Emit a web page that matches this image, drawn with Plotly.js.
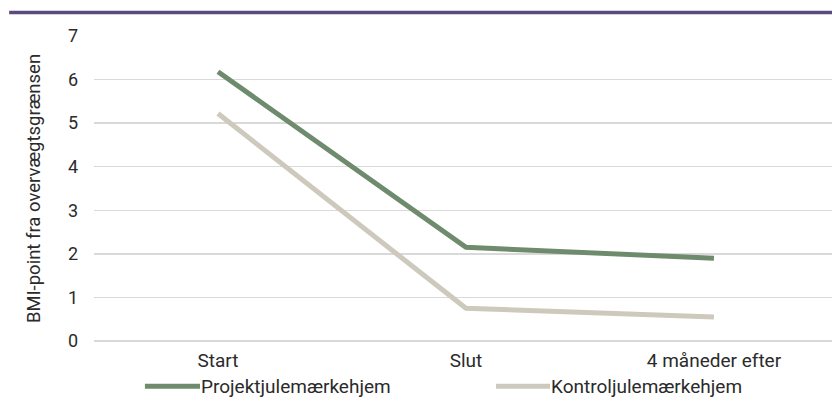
<!DOCTYPE html>
<html>
<head>
<meta charset="utf-8">
<script src="https://cdn.plot.ly/plotly-3.0.1.min.js"></script>
<style>html,body{margin:0;padding:0;background:#fff;}#chart{width:832px;height:401px;}</style>
</head>
<body>
<div id="chart"></div>
<script>
const categories = ["Start", "Slut", "4 måneder efter"];
const seriesNames = ["Projektjulemærkehjem", "Kontroljulemærkehjem"];
const projektValues = [6.18, 2.15, 1.9];
const kontrolValues = [5.22, 0.75, 0.55];
const yTicks = [0, 1, 2, 3, 4, 5, 6, 7];
const yTitle = "BMI-point fra overvægtsgrænsen";
const colors = ["#6f8b6d", "#cdc9bc"];

const FONT = "Roboto, 'DejaVu Sans', sans-serif";
const TXT = "#2b2b2b";
const traces = [
  {x: categories, y: projektValues, name: seriesNames[0], type: "scatter", mode: "lines",
   line: {color: colors[0], width: 5}},
  {x: categories, y: kontrolValues, name: seriesNames[1], type: "scatter", mode: "lines",
   line: {color: colors[1], width: 5}}
];

// custom legend (paper coordinates)
const legendY = -0.148;
const legendItems = [
  {x0: 0.069, x1: 0.1436, tx: 0.1436},
  {x0: 0.5447, x1: 0.6179, tx: 0.6185}
];
const shapes = [{type: "line", xref: "paper", yref: "paper", x0: -0.115, x1: 1, y0: 1.077, y1: 1.077,
                 line: {color: "#5b4a80", width: 3.5}}];
const annotations = [];
legendItems.forEach((it, i) => {
  shapes.push({type: "line", xref: "paper", yref: "paper", x0: it.x0, x1: it.x1, y0: legendY, y1: legendY,
               line: {color: colors[i], width: 5}});
  annotations.push({xref: "paper", yref: "paper", x: it.tx, y: legendY, xanchor: "left", yanchor: "middle",
                    text: seriesNames[i], showarrow: false, borderpad: 0,
                    font: {size: 19, family: FONT, color: TXT}});
});

const layout = {
  width: 832, height: 401,
  margin: {l: 94, r: 0, t: 36, b: 60},
  paper_bgcolor: "#fff", plot_bgcolor: "#fff",
  font: {family: FONT, size: 19, color: TXT},
  showlegend: false,
  xaxis: {type: "category", range: [-0.5, 2.476], showgrid: false, showline: false,
          ticks: "", tickfont: {size: 19}, ticklabelstandoff: 6, fixedrange: true, automargin: false},
  yaxis: {range: [0, 7], tickvals: yTicks, showgrid: true, gridcolor: "#d9d9d9", gridwidth: 1.5,
          zeroline: true, zerolinecolor: "#d9d9d9", zerolinewidth: 1.5, showline: false,
          ticks: "", ticklabelstandoff: 15, tickfont: {size: 18}, automargin: false,
          title: {text: yTitle, font: {size: 18.5}, standoff: 22}},
  shapes: shapes,
  annotations: annotations
};
Plotly.newPlot("chart", traces, layout, {displayModeBar: false, staticPlot: true});
</script>
</body>
</html>
